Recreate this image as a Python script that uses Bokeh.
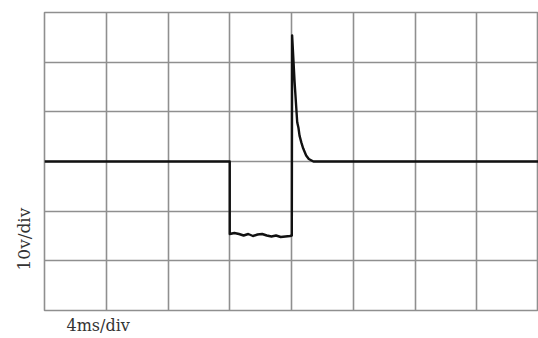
from bokeh.plotting import figure
from bokeh.models import FixedTicker, Title, Range1d
from bokeh.embed import file_html
from bokeh.resources import INLINE

# time in ms (4 ms/div, 8 divisions), voltage in V (10 V/div, 6 divisions)
time_ms = [0.0, 12.0, 12.0, 12.3, 12.6, 12.9, 13.2, 13.5, 13.8, 14.1, 14.4,
           14.7, 15.0, 15.3, 15.6, 15.9, 16.02, 16.04, 16.2, 16.37, 16.45,
           16.52, 16.64, 16.76, 16.95, 17.12, 17.42, 32.0]
volts = [0.0, 0.0, -14.6, -14.4, -14.6, -14.9, -14.6, -15.0, -14.7, -14.6,
         -14.9, -15.1, -14.9, -15.2, -15.1, -15.0, -14.9, 25.4, 16.0, 7.9,
         6.8, 5.2, 3.8, 2.6, 1.2, 0.5, 0.0, 0.0]

x_ticks = [0, 4, 8, 12, 16, 20, 24, 28, 32]
y_ticks = [-30, -20, -10, 0, 10, 20, 30]
x_label = "4ms/div"
y_label = "10v/div"

p = figure(width=538, height=338, output_backend="svg", toolbar_location=None,
           x_range=Range1d(0, 32), y_range=Range1d(-30, 30),
           min_border_left=44, min_border_top=12, min_border_right=0,
           min_border_bottom=28)

p.xaxis.visible = False
p.yaxis.visible = False
p.xgrid.ticker = FixedTicker(ticks=x_ticks)
p.ygrid.ticker = FixedTicker(ticks=y_ticks)
for g in (p.xgrid, p.ygrid):
    g.grid_line_color = "#8f8f8f"
    g.grid_line_width = 1.6
    g.grid_line_alpha = 1.0
p.outline_line_color = "#8f8f8f"
p.outline_line_width = 1.6
p.background_fill_color = "white"
p.border_fill_color = "white"

p.line(time_ms, volts, line_color="#111111", line_width=2.4, line_join="round")

p.add_layout(Title(text=x_label, align="left", offset=22, standoff=7,
                   text_font="DejaVu Serif", text_font_size="16px",
                   text_font_style="normal", text_color="#333333"), "below")
p.add_layout(Title(text=y_label, align="left", offset=40, standoff=22,
                   text_font="DejaVu Serif", text_font_size="17px",
                   text_font_style="normal", text_color="#333333"), "left")

open("out.html", "w").write(file_html(p, INLINE))
